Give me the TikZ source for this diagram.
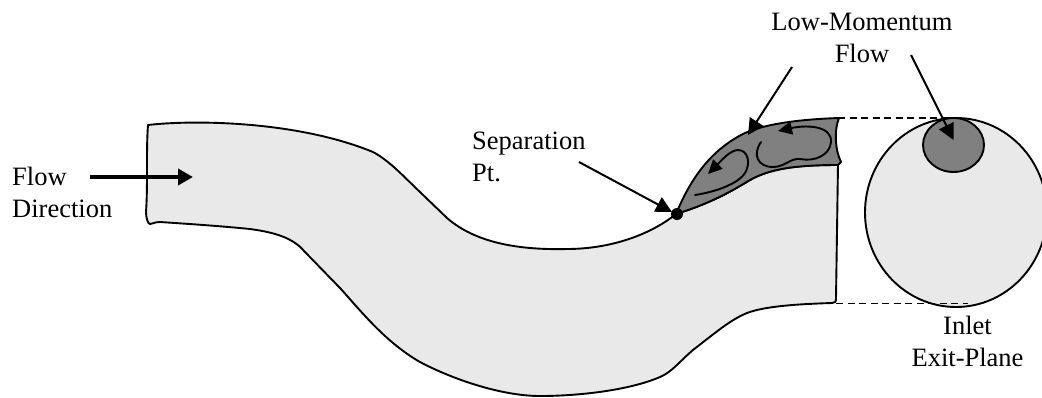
\documentclass[tikz,border=0pt]{standalone}
\usepackage{fontspec}
\setmainfont{Liberation Serif}
\usetikzlibrary{arrows.meta}
\definecolor{ductfill}{RGB}{233,233,233}
\definecolor{lowfill}{RGB}{128,128,128}
\tikzset{
  x=1pt,y=-1pt,
  outline/.style={draw=black,line width=1.9pt,line join=round},
  swirl/.style={draw=black,line width=1.9pt,line cap=round,-{Triangle[length=14pt,width=13pt]}},
  pointer/.style={draw=black,line width=2pt,line cap=butt,-{Triangle[length=16pt,width=16pt]}},
  thick arrow/.style={draw=black,line width=3.8pt,-{Triangle[length=15pt,width=16pt]}},
  guide/.style={draw=black,line width=1.9pt,dash pattern=on 7pt off 4.5pt},
  label/.style={font=\fontsize{26.5}{32}\selectfont,align=center,inner sep=0pt}
}
\begin{document}
\begin{tikzpicture}
\useasboundingbox (0,0) rectangle (1042,397);
% duct
\path[outline,fill=ductfill]
 (148,125) .. controls (190,120) and (295,120) .. (373,152)
 .. controls (390,161) and (405,178) .. (420,192)
 -- (447,218) .. controls (478,245) and (525,250) .. (567,249)
 .. controls (610,249) and (650,235) .. (676,214)
 .. controls (705,205) and (725,195) .. (745,183)
 .. controls (765,170) and (790,165) .. (838,165)
 -- (836,298) .. controls (836,302) and (835,303) .. (832,303)
 .. controls (800,304) and (765,306) .. (747,313)
 .. controls (730,320) and (715,333) .. (693,350)
 .. controls (680,361) and (672,372) .. (660,377)
 .. controls (630,390) and (580,396) .. (540,396)
 .. controls (500,396) and (450,378) .. (420,362)
 .. controls (385,342) and (360,310) .. (340,288)
 -- (305,252) .. controls (295,240) and (280,233) .. (250,229)
 .. controls (220,226) and (190,224) .. (160,222)
 .. controls (154,222) and (153,224) .. (150,224)
 .. controls (148,224) and (146,218) .. (146,212)
 .. controls (148,185) and (146,150) .. (148,125) -- cycle;
% low-momentum region
\path[outline,fill=lowfill]
 (676,214) .. controls (690,180) and (710,150) .. (745,133)
 .. controls (770,122) and (810,119) .. (839,118)
 .. controls (834,130) and (835,150) .. (841,162)
 -- (838,165) .. controls (790,165) and (765,170) .. (745,183)
 .. controls (725,195) and (705,205) .. (676,214) -- cycle;
% swirls
\draw[swirl] (695,195) .. controls (715,192) and (738,184) .. (745,173)
 .. controls (751,163) and (748,150) .. (738,150)
 .. controls (730,150) and (720,162) .. (708,174);
\draw[swirl] (761,142) .. controls (752,155) and (758,167) .. (773,167)
 .. controls (785,167) and (790,158) .. (800,159)
 .. controls (815,162) and (830,155) .. (831,142)
 .. controls (832,125) and (805,125) .. (778,131);
% inlet exit plane
\path[outline,fill=ductfill] (956,212.5) ellipse [x radius=91,y radius=94.5];
\path[outline,fill=lowfill] (953.5,145) ellipse [x radius=30.5,y radius=27];
\coordinate (dashA) at (838,118);
\coordinate (dashB) at (955,118);
\coordinate (dashC) at (836,303.5);
\coordinate (dashD) at (968,303.5);
\draw[guide] (dashA) -- (dashB);
\draw[guide] (dashC) -- (dashD);
% separation point
\node[circle,fill=black,minimum size=12pt,inner sep=0pt] (sep) at (677,214) {};
% labels
\node[label,anchor=west,align=left] (flowlab) at (12,192) {Flow\\Direction};
\node[label,anchor=west,align=left] (seplab) at (472,157) {Separation\\Pt.};
\node[label] (lowlab) at (862,38) {Low-Momentum\\Flow};
\node[label] (inletlab) at (967.5,341.5) {Inlet\\Exit-Plane};
% pointers
\coordinate (flowS) at (90,177);
\coordinate (flowE) at (193,177);
\draw[thick arrow] (flowS) -- (flowE);
\coordinate (sepS) at (579,162);
\coordinate (sepE) at (672,212);
\draw[pointer] (sepS) -- (sepE);
\coordinate (lowS) at (792,67);
\coordinate (lowE) at (748,135);
\draw[pointer] (lowS) -- (lowE);
\coordinate (lowT) at (911,55);
\coordinate (lowG) at (953.5,140);
\draw[pointer] (lowT) -- (lowG);
\end{tikzpicture}
\end{document}
